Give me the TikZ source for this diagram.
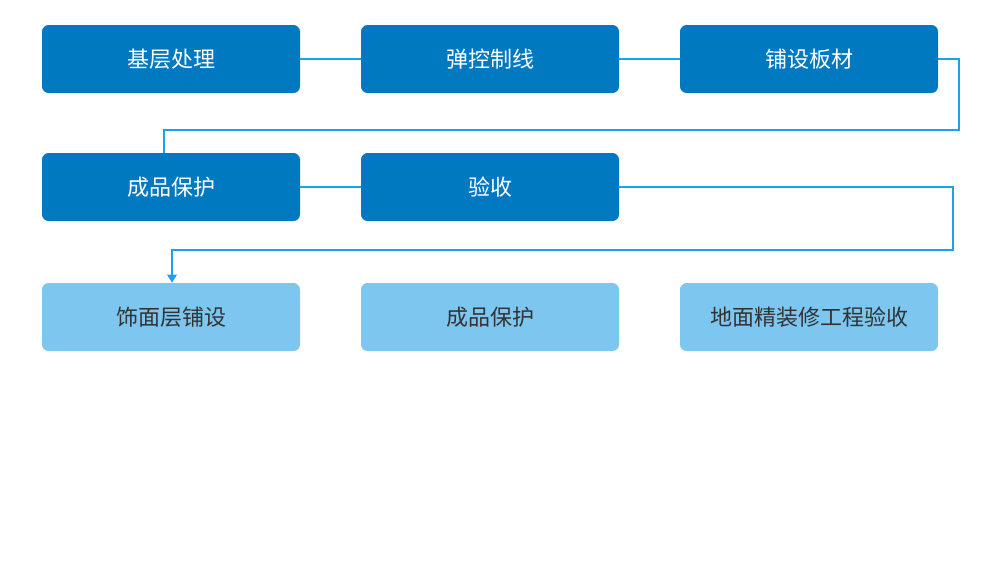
\documentclass[tikz,border=0pt]{standalone}
\usepackage{fontspec}
\newfontfamily\cjk{Noto Sans CJK SC}
\usetikzlibrary{arrows.meta}
\definecolor{dk}{HTML}{0079C1}
\definecolor{lt}{HTML}{7CC6F0}
\definecolor{ln}{HTML}{1FA0EC}
\definecolor{tx}{HTML}{333333}
\begin{document}
\begin{tikzpicture}[x=0.75pt,y=-0.75pt,
 box/.style={rounded corners=5pt,minimum width=193.5pt,minimum height=51pt,inner sep=0pt,font=\cjk\fontsize{16.5}{18}\selectfont},
 d/.style={box,fill=dk,text=white},
 l/.style={box,fill=lt,text=tx},
 c/.style={draw=ln,line width=1.3pt}]
\fill[white] (0,0) rectangle (1000,569);
\useasboundingbox (0,0) rectangle (1000,569);
\node[d] (a1) at (171,59) {基层处理};
\node[d] (a2) at (490,59) {弹控制线};
\node[d] (a3) at (809,59) {铺设板材};
\node[d] (b1) at (171,187) {成品保护};
\node[d] (b2) at (490,187) {验收};
\node[l] (c1) at (171,317) {饰面层铺设};
\node[l] (c2) at (490,317) {成品保护};
\node[l] (c3) at (809,317) {地面精装修工程验收};
\coordinate (p1) at (959,59);
\coordinate (p2) at (959,130);
\coordinate (p3) at (164,130);
\coordinate (q1) at (953,187);
\coordinate (q2) at (953,250);
\coordinate (q3) at (172,250);
\draw[c] (a1.east) -- (a2.west);
\draw[c] (a2.east) -- (a3.west);
\draw[c] (a3.east) -- (p1) -- (p2) -- (p3) -- (p3 |- b1.north);
\draw[c] (b1.east) -- (b2.west);
\draw[c,-{Triangle[width=7pt,length=6pt]}] (b2.east) -- (q1) -- (q2) -- (q3) -- (q3 |- c1.north);
\end{tikzpicture}
\end{document}
